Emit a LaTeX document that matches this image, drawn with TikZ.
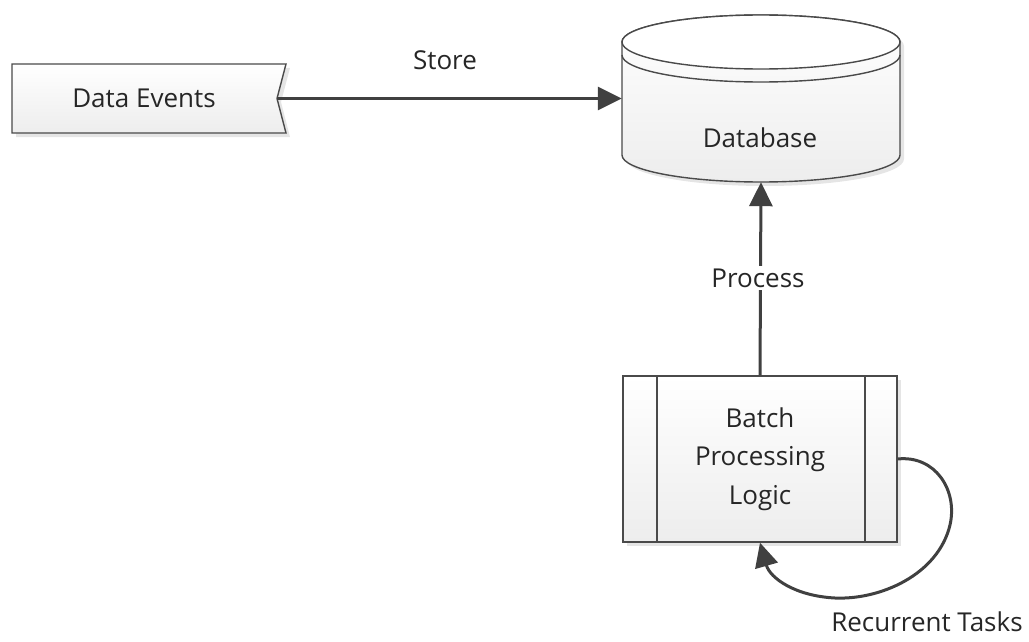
\documentclass[tikz,border=0pt]{standalone}
\usepackage{fontspec}
\setmainfont{Open Sans}
\usetikzlibrary{arrows.meta}
\definecolor{edge}{HTML}{4A4A4A}
\definecolor{arr}{HTML}{404040}
\definecolor{lo}{HTML}{EDEDED}
\begin{document}
\begin{tikzpicture}[x=1pt,y=-1pt,
  lbl/.style={font=\fontsize{26}{38.5}\selectfont, text=black!85, inner sep=1pt, align=center},
  box/.style={draw=none, inner sep=0pt},
  figbox/.style={draw=edge, line width=1.4pt, top color=white, bottom color=lo},
  shad/.style={fill=black!10, draw=none},
  conn/.style={draw=arr, line width=3pt, -{Triangle[length=24pt,width=23pt]}}
]
\useasboundingbox (0,0) rectangle (1029,642);
% ---------- Data Events
\node[box, minimum width=274pt, minimum height=69pt] (de) at (149,98.5) {};
\path[shad] (16,68) -- (290,68) -- (281,102) -- (290,137) -- (16,137) -- cycle;
\path[figbox] (12,64) -- (286,64) -- (277,98.5) -- (286,133) -- (12,133) -- cycle;
\node[lbl] (detext) at (144,98) {Data Events};
% ---------- Database
\node[box, minimum width=278pt, minimum height=167pt] (db) at (761,98.5) {};
\path[shad] (626,46) -- (626,159) arc[start angle=180,end angle=0,x radius=139,y radius=27] -- (904,46) arc[start angle=0,end angle=-180,x radius=139,y radius=27] -- cycle;
\path[figbox] (622,42) -- (622,155) arc[start angle=180,end angle=0,x radius=139,y radius=27] -- (900,42) arc[start angle=0,end angle=-180,x radius=139,y radius=27] -- cycle;
\draw[draw=edge, line width=1.4pt, fill=white] (761,42) ellipse[x radius=139, y radius=27];
\draw[draw=edge, line width=1.4pt] (622,55) arc[start angle=180,end angle=0,x radius=139,y radius=27];
\node[lbl] (dbtext) at (760,138) {Database};
% ---------- Batch processing
\path[shad] (627,380) rectangle (901,546);
\node[figbox, minimum width=274pt, minimum height=166pt, inner sep=0pt] (bp) at (760,459) {};
\draw[draw=edge, line width=1.4pt] (657,376) -- (657,542) (865,376) -- (865,542);
\node[lbl] (bptext) at (760,459) {Batch\\Processing\\Logic};
% ---------- connectors
\draw[conn] ([xshift=-9pt]de.east) -- (db.west);
\node[lbl] (store) at (445,60) {Store};
\draw[conn] (bp.north) -- (db.south);
\node[lbl, fill=white, inner sep=3pt] (proc) at (758,278) {Process};
\draw[conn] (bp.east) .. controls (935,455) and (958,490) .. (950,525)
  .. controls (938,575) and (880,600) .. (835,598)
  .. controls (795,596) and (770,578) .. (bp.south);
\node[lbl] (rec) at (927,622) {Recurrent Tasks};
\end{tikzpicture}
\end{document}
